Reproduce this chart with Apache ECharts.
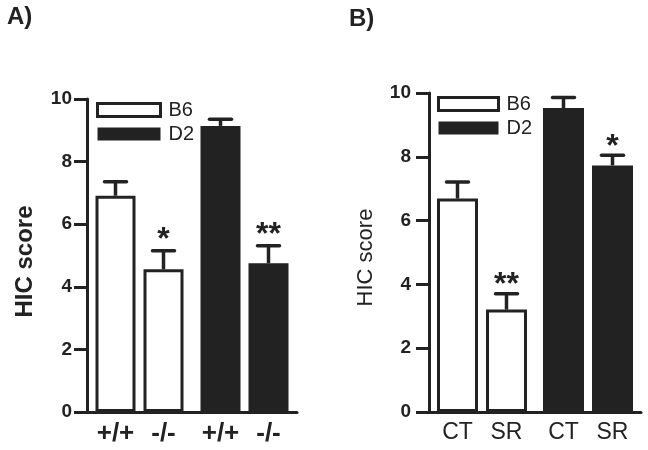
<!DOCTYPE html>
<html><head><meta charset="utf-8">
<script src="https://cdn.jsdelivr.net/npm/echarts@6/dist/echarts.min.js"></script>
<style>html,body{margin:0;padding:0;background:#fff}#c{width:648px;height:450px}</style>
</head><body><div id="c"></div>
<script>
// ---- data ----
const strains = ['B6', 'D2'];
const seriesNamesA = ['+/+', '-/-'];
const meanA_wt = [6.91, 9.14];
const meanA_ko = [4.56, 4.75];
const semA_wt = [0.45, 0.21];
const semA_ko = [0.59, 0.56];
const sigA_wt = ['', ''];
const sigA_ko = ['*', '**'];

const seriesNamesB = ['CT', 'SR'];
const meanB_ct = [6.69, 9.53];
const meanB_sr = [3.21, 7.73];
const semB_ct = [0.52, 0.33];
const semB_sr = [0.50, 0.32];
const sigB_ct = ['', ''];
const sigB_sr = ['**', '*'];

const yTicks = [0, 2, 4, 6, 8, 10];
const panelTitles = ['A)', 'B)'];
const yName = 'HIC score';

// ---- styling ----
const INK = '#222';
const FONT = 'Liberation Sans, Arial, sans-serif';
function barStyle(i) {
  return i === 0 ? { color: '#fff', borderColor: INK, borderWidth: 3, opacity: 1 }
                 : { color: INK, borderColor: INK, borderWidth: 3, opacity: 1 };
}

function barSeries(name, vals, gi, bw, gap, lblStyle) {
  return {
    type: 'bar', name: name, xAxisIndex: gi, yAxisIndex: gi,
    barWidth: bw, barGap: gap,
    data: vals.map((v, i) => ({ value: v, itemStyle: barStyle(i) })),
    label: { show: true, position: 'bottom', distance: 9, formatter: () => name,
             color: INK, fontFamily: FONT, ...lblStyle },
    emphasis: { disabled: true }, silent: true, z: 2
  };
}

function errSeries(means, sems, sigs, slot, gi, step, sigFont, sigOff) {
  return {
    type: 'custom', xAxisIndex: gi, yAxisIndex: gi, silent: true, z: 5,
    data: means.map((m, i) => [i, m, m + sems[i]]),
    renderItem: function (params, api) {
      const p0 = api.coord([api.value(0), api.value(1)]);
      const p1 = api.coord([api.value(0), api.value(2)]);
      const x = p0[0] + slot * step / 2;
      const sig = sigs[params.dataIndex];
      const ch = [
        { type: 'line', shape: { x1: x, y1: p0[1], x2: x, y2: p1[1] },
          style: { stroke: INK, lineWidth: 3.5 } },
        { type: 'line', shape: { x1: x - 11, y1: p1[1], x2: x + 11, y2: p1[1] },
          style: { stroke: INK, lineWidth: 3.5, lineCap: 'round' } }
      ];
      if (sig) ch.push({ type: 'text', x: x, y: p1[1] + sigOff,
        style: { text: sig, fill: INK, font: 'bold ' + sigFont + 'px ' + FONT,
                 textAlign: 'center', textVerticalAlign: 'bottom' } });
      return { type: 'group', children: ch };
    }
  };
}

function yAxis(gi, lblWeight, lblSize, lblMargin, nameWeight, nameSize, nameGap, namePad) {
  return {
    gridIndex: gi, type: 'value', min: 0, max: 10, interval: 2,
    axisLine: { show: true, lineStyle: { color: INK, width: 3 } },
    axisTick: { show: true, length: 13, lineStyle: { color: INK, width: 3 } },
    splitLine: { show: false },
    axisLabel: { color: INK, fontFamily: FONT, fontWeight: lblWeight, fontSize: lblSize, margin: lblMargin,
                 formatter: v => yTicks.includes(v) ? String(v) : '' },
    name: yName, nameLocation: 'middle', nameRotate: 90, nameGap: nameGap,
    nameTextStyle: { color: INK, fontFamily: FONT, fontWeight: nameWeight, fontSize: nameSize, padding: namePad }
  };
}

function xAxis(gi) {
  return {
    gridIndex: gi, type: 'category', data: strains,
    axisLine: { show: true, lineStyle: { color: INK, width: 3 } },
    axisTick: { show: false }, axisLabel: { show: false }
  };
}

function legend(left, top, w) {
  return {
    orient: 'vertical', left: left, top: top, itemWidth: w, itemHeight: 13, itemGap: 4,
    selectedMode: false, padding: 0,
    textStyle: { color: INK, fontFamily: FONT, fontSize: 20, padding: [0, 0, 0, 3] },
    data: [
      { name: 'B6', icon: 'rect', itemStyle: { color: '#fff', borderColor: INK, borderWidth: 3, opacity: 1 } },
      { name: 'D2', icon: 'rect', itemStyle: { color: INK, borderColor: INK, borderWidth: 0, opacity: 1 } }
    ]
  };
}

const chart = echarts.init(document.getElementById('c'), null, { renderer: 'canvas' });
chart.setOption({
  backgroundColor: '#fff',
  animation: false,
  title: [
    { text: panelTitles[0], left: 7, top: 5, padding: 0,
      textStyle: { color: INK, fontFamily: FONT, fontWeight: 'bold', fontSize: 24 } },
    { text: panelTitles[1], left: 349, top: 7, padding: 0,
      textStyle: { color: INK, fontFamily: FONT, fontWeight: 'bold', fontSize: 24 } }
  ],
  legend: [legend(96, 100, 63), legend(437, 94, 60)],
  grid: [
    { left: 87, top: 99, width: 210, height: 313 },
    { left: 429, top: 93, width: 212, height: 319 }
  ],
  xAxis: [xAxis(0), xAxis(1)],
  yAxis: [yAxis(0, 'bold', 19, 15, 'bold', 24, 50, [0, 12, 0, 0]),
          yAxis(1, 'bold', 19, 18, 'normal', 22, 52, [0, 10, 0, 0])],
  series: [
    barSeries(seriesNamesA[0], meanA_wt, 0, 40, '20%', { fontSize: 26, fontWeight: 'bold' }),
    barSeries(seriesNamesA[1], meanA_ko, 0, 40, '20%', { fontSize: 26, fontWeight: 'bold' }),
    errSeries(meanA_wt, semA_wt, sigA_wt, -1, 0, 48, 32, 5),
    errSeries(meanA_ko, semA_ko, sigA_ko, 1, 0, 48, 32, 5),
    barSeries(seriesNamesB[0], meanB_ct, 1, 41, '19.5%', { fontSize: 23, fontWeight: 'normal' }),
    barSeries(seriesNamesB[1], meanB_sr, 1, 41, '19.5%', { fontSize: 23, fontWeight: 'normal' }),
    errSeries(meanB_ct, semB_ct, sigB_ct, -1, 1, 49, 32, 8),
    errSeries(meanB_sr, semB_sr, sigB_sr, 1, 1, 49, 32, 8),
    { type: 'scatter', name: 'B6', xAxisIndex: 0, yAxisIndex: 0, data: [],
      itemStyle: { color: '#fff', borderColor: INK, borderWidth: 3, opacity: 1 } },
    { type: 'scatter', name: 'D2', xAxisIndex: 0, yAxisIndex: 0, data: [],
      itemStyle: { color: INK, opacity: 1 } }
  ]
});
</script></body></html>
